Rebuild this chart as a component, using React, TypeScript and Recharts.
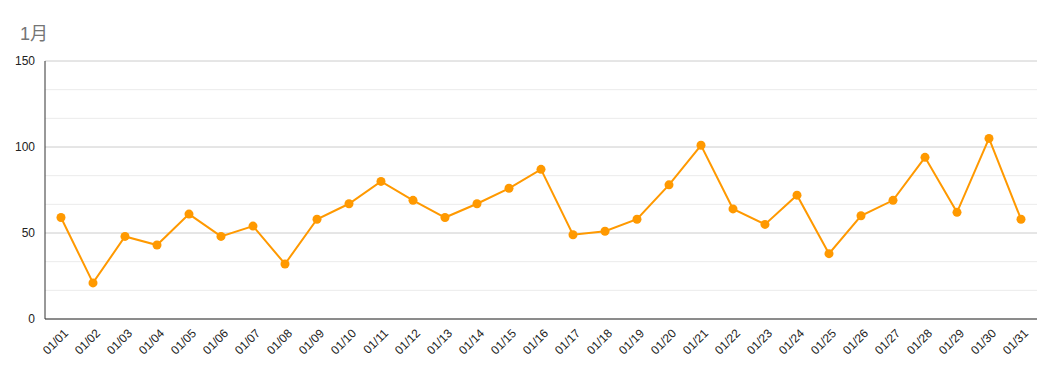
import React from 'react';
import {
  LineChart,
  Line,
  XAxis,
  YAxis,
  CartesianGrid,
  ReferenceLine,
} from 'recharts';

const days = [
  '01/01', '01/02', '01/03', '01/04', '01/05', '01/06', '01/07', '01/08',
  '01/09', '01/10', '01/11', '01/12', '01/13', '01/14', '01/15', '01/16',
  '01/17', '01/18', '01/19', '01/20', '01/21', '01/22', '01/23', '01/24',
  '01/25', '01/26', '01/27', '01/28', '01/29', '01/30', '01/31',
];

const counts = [
  59, 21, 48, 43, 61, 48, 54, 32, 58, 67, 80, 69, 59, 67, 76, 87,
  49, 51, 58, 78, 101, 64, 55, 72, 38, 60, 69, 94, 62, 105, 58,
];

const yTicks = [0, 50, 100, 150];
const minorGrid = [50 / 3, 100 / 3, 200 / 3, 250 / 3, 350 / 3, 400 / 3];

const data = days.map((day, i) => ({ day, value: counts[i] }));

const FONT = '"Liberation Sans", Arial, "Noto Sans CJK JP", sans-serif';

function DayTick(props: any) {
  const { x, y, payload } = props;
  return (
    <g transform={`translate(${x + 5},${y + 4})`}>
      <text
        transform="rotate(-45)"
        textAnchor="end"
        dy="0.35em"
        fontSize={12}
        fill="#222"
        fontFamily={FONT}
      >
        {payload.value}
      </text>
    </g>
  );
}

function ValueTick(props: any) {
  const { x, y, payload } = props;
  return (
    <text
      x={x}
      y={y}
      dy="0.35em"
      textAnchor="end"
      fontSize={12}
      fill="#222"
      fontFamily={FONT}
    >
      {payload.value}
    </text>
  );
}

export default function App() {
  return (
    <div
      style={{
        position: 'absolute',
        left: 0,
        top: 0,
        width: 1055,
        height: 371,
        background: '#fff',
        fontFamily: FONT,
      }}
    >
      <div
        style={{
          position: 'absolute',
          left: 20,
          top: 19,
          fontSize: 18,
          color: '#757575',
        }}
      >
        1月
      </div>
      <LineChart
        width={1055}
        height={371}
        data={data}
        margin={{ top: 61, right: 18, left: 0, bottom: 0 }}
      >
        <CartesianGrid vertical={false} stroke="#cccccc" />
        {minorGrid.map((v) => (
          <ReferenceLine key={v} y={v} stroke="#ebebeb" />
        ))}
        <XAxis
          dataKey="day"
          interval={0}
          padding={{ left: 16, right: 16 }}
          tickLine={false}
          axisLine={{ stroke: '#333' }}
          tick={<DayTick />}
          height={52}
        />
        <YAxis
          domain={[0, 150]}
          ticks={yTicks}
          width={45}
          tickLine={false}
          axisLine={{ stroke: '#333' }}
          tick={<ValueTick />}
          tickMargin={4}
        />
        <Line
          type="linear"
          dataKey="value"
          stroke="#ff9900"
          strokeWidth={2}
          dot={{ r: 4.5, fill: '#ff9900', stroke: '#ff9900', strokeWidth: 0 }}
          activeDot={false}
          isAnimationActive={false}
        />
      </LineChart>
    </div>
  );
}
